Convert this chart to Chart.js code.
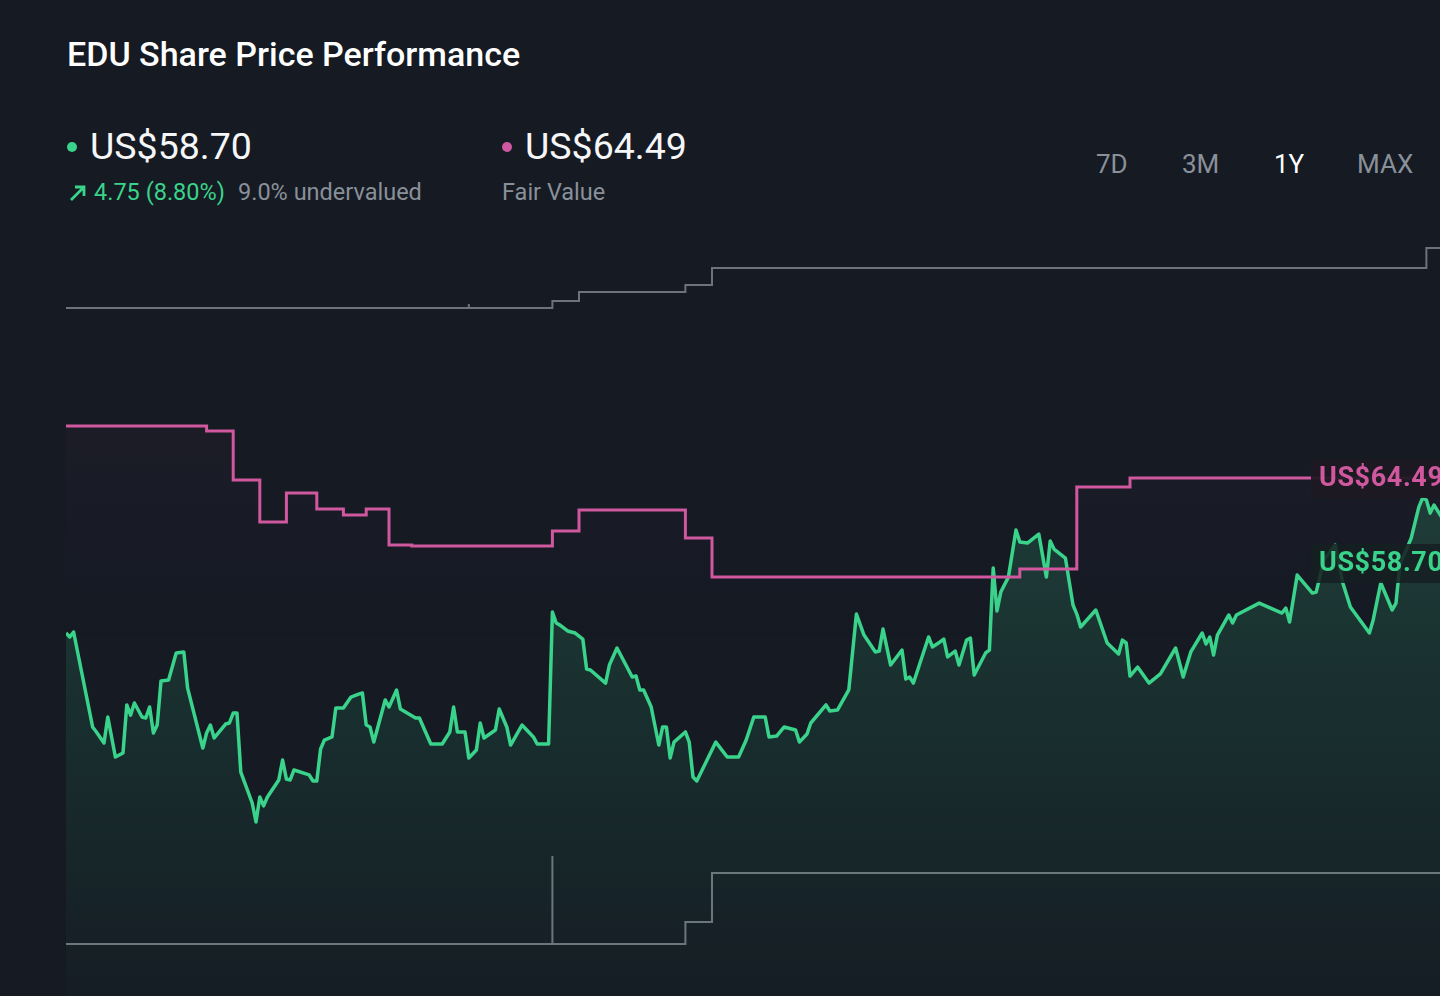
<!DOCTYPE html>
<html>
<head>
<meta charset="utf-8">
<script src="https://cdn.jsdelivr.net/npm/chart.js@4.4.1/dist/chart.umd.min.js"></script>
<style>
  html, body { margin: 0; padding: 0; background: #151a23; width: 1440px; height: 996px; overflow: hidden; }
  body { position: relative; font-family: Roboto, "Noto Sans", sans-serif; }
  .t { position: absolute; line-height: 1; white-space: nowrap; }
  .title { left: 67px; top: 37px; font-size: 34px; font-weight: 500; color: #ffffff; }
  .big { top: 128px; font-size: 37.5px; color: #f5f6f7; }
  .sub { top: 181px; font-size: 23.5px; color: #8a9099; }
  .dot { position: absolute; width: 10px; height: 10px; border-radius: 50%; }
  .range { top: 151px; font-size: 26px; color: #8a9099; }
  #chartWrap { position: absolute; left: 66px; top: 220px; width: 1387px; height: 776px; }
</style>
</head>
<body>
<div class="t title">EDU Share Price Performance</div>

<div class="dot" style="left:67px; top:142px; background:#3ad38b;"></div>
<div class="t big" style="left:90px;">US$58.70</div>
<svg style="position:absolute; left:68px; top:183px;" width="20" height="20" viewBox="0 0 20 20">
  <path d="M3 17 L16 4 M7 4 L16 4 L16 13" stroke="#3ad38b" stroke-width="2.8" fill="none"/>
</svg>
<div class="t sub" style="left:94px; color:#3ad38b;">4.75 (8.80%)</div>
<div class="t sub" style="left:238px;">9.0% undervalued</div>

<div class="dot" style="left:502px; top:142px; background:#d0589e;"></div>
<div class="t big" style="left:525px;">US$64.49</div>
<div class="t sub" style="left:502px;">Fair Value</div>

<div class="t range" style="left:1096px;">7D</div>
<div class="t range" style="left:1182px;">3M</div>
<div class="t range" style="left:1274px; color:#ffffff;">1Y</div>
<div class="t range" style="left:1357px;">MAX</div>

<div id="chartWrap"><canvas id="perfChart"></canvas></div>

<script>
// Share price over the last year (x = calendar day, y = US$)
const priceDays = [0,1,2,7,8,10,11,13,15,16,17,18,20,21,22,23,24,25,27,29,31,32,36,37,38,39,42,43,44,45,46,49,50,51,52,53,56,57,58,59,60,64,65,66,67,68,70,71,73,75,77,78,79,80,81,84,85,87,88,92,93,96,99,101,102,103,105,106,108,109,110,113,114,116,117,120,123,124,127,128,129,130,132,134,136,137,138,142,143,145,149,150,151,152,154,156,157,158,159,160,163,164,165,166,171,174,177,179,181,184,185,187,189,192,193,195,196,200,201,203,206,208,210,213,214,215,217,220,221,222,223,227,228,230,231,232,234,235,237,238,239,242,243,244,245,246,248,250,251,253,256,258,259,260,263,265,266,267,271,274,277,278,279,280,282,285,288,292,294,296,299,300,301,302,303,306,307,308,314,320,321,322,324,328,329,331,334,336,338,343,344,346,349,350,351,354,356,357,358,359,360,362,365];
const priceValues = [53.93,53.66,54.00,47.53,47.19,46.44,48.21,45.48,45.76,49.03,48.34,49.16,48.21,48.14,48.89,47.12,47.66,50.66,50.73,52.57,52.64,50.18,46.10,47.12,47.66,46.78,47.73,47.80,48.48,48.48,44.46,42.35,41.06,42.76,42.15,42.76,43.92,45.28,43.98,43.92,44.60,44.26,43.85,43.85,46.03,46.64,46.85,48.82,48.82,49.57,49.77,49.84,47.66,47.53,46.50,49.37,48.89,50.05,48.75,48.14,48.14,46.37,46.37,47.19,48.89,47.19,47.19,45.42,45.96,47.80,46.78,47.32,48.75,47.53,46.30,47.66,46.85,46.37,46.37,55.36,54.61,54.47,54.07,53.93,53.52,51.48,51.41,50.52,51.75,52.91,50.93,51.00,50.05,50.05,48.89,46.30,47.53,47.53,45.42,46.50,47.19,46.50,44.12,43.85,46.50,45.48,45.48,46.64,48.21,48.21,46.85,46.91,47.53,47.32,46.50,47.05,47.80,49.03,48.62,48.68,50.05,55.22,53.79,52.64,52.70,54.20,51.75,52.77,50.80,50.93,50.52,53.66,52.98,53.32,53.52,52.30,52.70,51.75,53.45,53.59,51.07,52.57,52.77,58.36,55.43,56.72,57.74,60.95,60.13,60.06,60.67,57.74,60.20,59.65,59.04,55.84,55.22,54.34,55.50,53.25,52.50,53.45,53.25,51.00,51.61,50.52,51.14,52.91,50.93,52.64,53.93,53.18,53.66,52.43,53.79,55.16,54.61,55.16,55.97,55.29,55.63,54.68,57.88,56.65,56.72,58.90,59.92,57.34,55.70,53.93,54.82,57.34,55.50,55.97,58.56,60.40,62.51,63.13,62.99,62.10,62.65,61.83,58.70];

// Fair value estimate, changes on the listed days
const fairDays = [0,37,44,51,58,66,73,79,85,91,128,135,163,170,251,266,280,365];
const fairValues = [68.03,67.69,64.35,61.49,63.47,62.38,61.97,62.38,59.93,59.86,60.88,62.31,60.40,57.75,58.29,63.88,64.49,64.49];

// Analyst high / low price targets
const highDays = [0,106,106,106,128,135,163,170,358,365];
const highValues = [76.07,76.07,76.34,76.07,76.55,77.16,77.64,78.80,80.16,80.16];
const lowDays = [0,128,128,128,163,170,365];
const lowValues = [32.75,32.75,38.74,32.75,34.24,37.58,37.58];

const lastPrice = 58.70;
const fairValue = 64.49;

const GREEN = '#3ad38b';
const PINK = '#d0589e';
const GREY = '#6d727b';

function toPoints(days, values) {
  return days.map((d, i) => ({ x: d, y: values[i] }));
}

function verticalFill(stops) {
  return (context) => {
    const { ctx, chartArea } = context.chart;
    if (!chartArea) return 'transparent';
    const g = ctx.createLinearGradient(0, chartArea.top, 0, chartArea.bottom);
    stops.forEach(([pos, color]) => g.addColorStop(pos, color));
    return g;
  };
}

// value tags at the right edge
const endLabels = {
  id: 'endLabels',
  afterDatasetsDraw(chart) {
    const { ctx, chartArea, scales } = chart;
    const tags = [
      [fairValue, PINK, 'rgba(30,26,34,0.94)'],
      [lastPrice, GREEN, 'rgba(22,32,34,0.88)'],
    ];
    ctx.save();
    ctx.font = 'bold 27px Roboto, sans-serif';
    ctx.letterSpacing = '0.6px';
    ctx.textBaseline = 'middle';
    tags.forEach(([value, color, bg]) => {
      const y = scales.y.getPixelForValue(value);
      const x = chartArea.right - 142;
      ctx.fillStyle = bg;
      ctx.beginPath();
      ctx.roundRect(x, y - 19, 170, 39, 5);
      ctx.fill();
      ctx.fillStyle = color;
      ctx.fillText('US$' + value.toFixed(2), x + 8, y + 1);
    });
    ctx.restore();
  },
};

new Chart(document.getElementById('perfChart'), {
  type: 'line',
  data: {
    datasets: [
      {
        label: 'Fair Value',
        data: toPoints(fairDays, fairValues),
        stepped: true,
        borderColor: PINK,
        borderWidth: 3,
        fill: 'start',
        backgroundColor: verticalFill([[0, 'rgba(208,88,158,0.07)'], [0.55, 'rgba(208,88,158,0.0)'], [1, 'rgba(208,88,158,0)']]),
        order: 1,
      },
      {
        label: 'Share Price',
        data: toPoints(priceDays, priceValues),
        borderColor: GREEN,
        borderWidth: 3.5,
        borderJoinStyle: 'round',
        tension: 0,
        fill: 'start',
        backgroundColor: verticalFill([[0.3, 'rgba(58,211,139,0.20)'], [1, 'rgba(58,211,139,0.02)']]),
        order: 2,
      },
      {
        label: 'High target',
        data: toPoints(highDays, highValues),
        stepped: true,
        borderColor: GREY,
        borderWidth: 2,
        fill: false,
        order: 3,
      },
      {
        label: 'Low target',
        data: toPoints(lowDays, lowValues),
        stepped: true,
        borderColor: GREY,
        borderWidth: 2,
        fill: false,
        order: 3,
      },
    ],
  },
  options: {
    responsive: true,
    maintainAspectRatio: false,
    animation: false,
    layout: { padding: 0 },
    elements: { point: { radius: 0, hoverRadius: 0 } },
    plugins: { legend: { display: false }, tooltip: { enabled: false } },
    scales: {
      x: { type: 'linear', min: 0, max: 365, display: false },
      y: { min: 29.2, max: 82.07, display: false },
    },
  },
  plugins: [endLabels],
});
</script>
</body>
</html>
